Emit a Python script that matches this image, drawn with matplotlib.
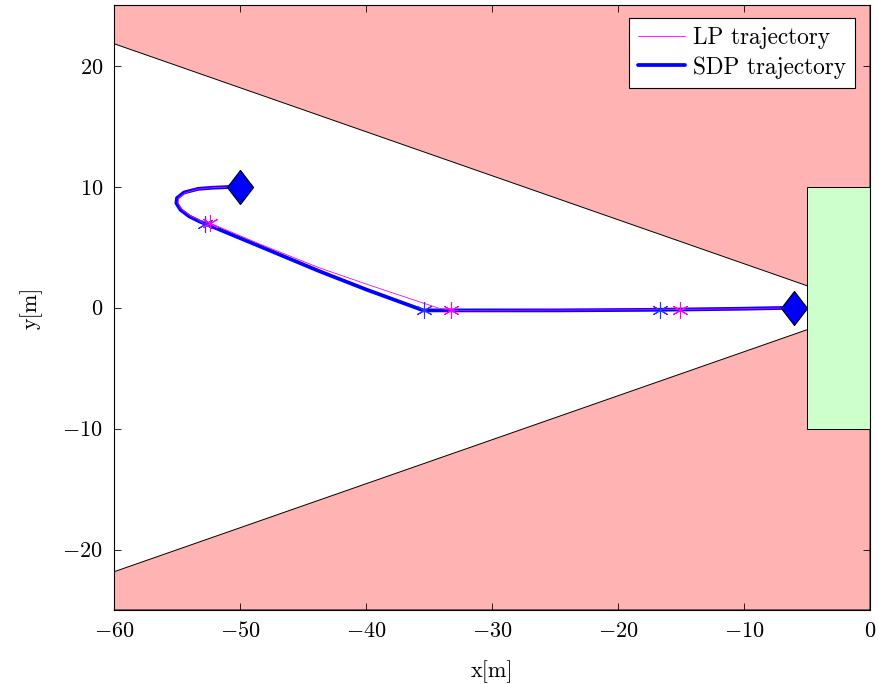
import numpy as np
import matplotlib
matplotlib.use("Agg")
import matplotlib.pyplot as plt
from matplotlib.path import Path
from matplotlib.patches import Polygon, Rectangle

plt.rcParams["font.family"] = "serif"
plt.rcParams["font.serif"] = ["cmr10", "DejaVu Serif"]
plt.rcParams["mathtext.fontset"] = "cm"
plt.rcParams["axes.formatter.use_mathtext"] = True
plt.rcParams["font.size"] = 16

# ── data ─────────────────────────────────────────────────────────────────────
sdp_x = [-50.0, -50.95, -52.14, -53.33, -54.45, -55.0, -55.05, -54.72, -54.02,
         -53.20, -52.54, -48.41, -43.65, -39.94, -35.45, -25.0, -16.7, -10.0, -6.0]
sdp_y = [10.0, 9.98, 9.93, 9.83, 9.53, 9.07, 8.65, 8.10, 7.55,
         7.13, 6.86, 5.07, 3.00, 1.49, -0.22, -0.22, -0.17, -0.08, 0.0]

lp_x = [-50.0, -50.95, -52.14, -53.30, -54.35, -54.88, -54.93, -54.60, -53.93,
        -53.10, -52.38, -48.41, -43.65, -39.42, -34.29, -33.25, -25.0, -15.1, -10.0, -6.0]
lp_y = [10.0, 9.98, 9.93, 9.82, 9.50, 9.05, 8.65, 8.12, 7.60,
        7.20, 7.00, 5.26, 3.28, 1.76, -0.02, -0.22, -0.20, -0.15, -0.08, 0.0]

sdp_wp_x = [-52.8, -35.4, -16.7]
sdp_wp_y = [6.95, -0.22, -0.17]
lp_wp_x = [-52.4, -33.25, -15.1]
lp_wp_y = [7.0, -0.22, -0.15]

start_end_x = [-50.0, -6.0]
start_end_y = [10.0, 0.0]

cone_half_angle = 20.0          # deg, visibility cone from origin
target_box = (-5.0, -10.0, 5.0, 20.0)   # x, y, width, height

XLIM = (-60, 0)
YLIM = (-25, 25)

RED = "#FFB3B3"
GREEN = "#CCFFCC"

fig = plt.figure(figsize=(8.79, 6.84), dpi=100)
ax = fig.add_axes([0.1297, 0.1082, 0.8601, 0.8838])

# ── forbidden regions outside the cone ──────────────────────────────────────
k = np.tan(np.radians(cone_half_angle))
edge_y = -k * XLIM[0]
ax.add_patch(Polygon([(XLIM[0], YLIM[1]), (XLIM[0], edge_y), (0, 0), (0, YLIM[1])],
                     closed=True, facecolor=RED, edgecolor="black", lw=0.7, zorder=1))
ax.add_patch(Polygon([(XLIM[0], YLIM[0]), (XLIM[0], -edge_y), (0, 0), (0, YLIM[0])],
                     closed=True, facecolor=RED, edgecolor="black", lw=0.7, zorder=1))
ax.add_patch(Rectangle(target_box[:2], target_box[2], target_box[3],
                       facecolor=GREEN, edgecolor="black", lw=0.7, zorder=2))

# ── trajectories ────────────────────────────────────────────────────────────
ax.plot(sdp_x, sdp_y, color="blue", lw=2.7, zorder=4, label="SDP trajectory",
        solid_joinstyle="round", solid_capstyle="round")
ax.plot(lp_x, lp_y, color="#FF00FF", lw=0.6, zorder=5, label="LP trajectory",
        solid_joinstyle="round")

ast = (6, 2, 0)
ax.plot(sdp_wp_x, sdp_wp_y, ls="none", marker=ast, ms=12, mew=0.8,
        color="#3030FF", zorder=6)
ax.plot(lp_wp_x, lp_wp_y, ls="none", marker=ast, ms=12, mew=0.8,
        color="#FF00FF", zorder=6)

diamond = Path([(0, 1.3), (1, 0), (0, -1.3), (-1, 0), (0, 1.3)],
               [Path.MOVETO, Path.LINETO, Path.LINETO, Path.LINETO, Path.CLOSEPOLY])
ax.plot(start_end_x, start_end_y, ls="none", marker=diamond, ms=24.5,
        mfc="blue", mec="black", mew=0.8, zorder=7)

ax.set_xlim(*XLIM)
ax.set_ylim(*YLIM)
ax.set_xticks(range(-60, 1, 10))
ax.set_yticks(range(-20, 21, 10))
ax.tick_params(direction="in", top=True, right=True, length=5, width=0.6,
               labelsize=16, pad=8)
for s in ax.spines.values():
    s.set_linewidth(0.8)
ax.set_xlabel("x[m]", fontsize=16, labelpad=14)
ax.set_ylabel("y[m]", fontsize=16, labelpad=14)

h, l = ax.get_legend_handles_labels()
leg = ax.legend(h[::-1], l[::-1], loc="upper right", fontsize=16.8, fancybox=False,
                edgecolor="black", framealpha=1, handlelength=2.0, borderpad=0.38,
                labelspacing=0.3, handletextpad=0.35, borderaxespad=0,
                bbox_to_anchor=(0.980, 0.979))
leg.get_frame().set_linewidth(0.8)

fig.savefig("out.png", dpi=100)
